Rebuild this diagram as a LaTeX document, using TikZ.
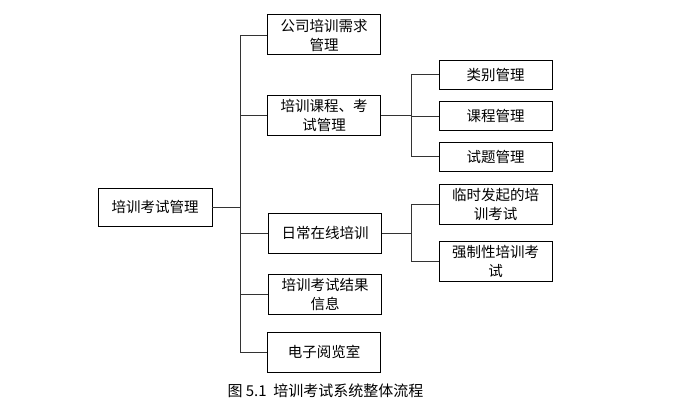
\documentclass[tikz,border=0pt]{standalone}
\usepackage{fontspec}
\setmainfont{Noto Sans CJK SC}
\begin{document}
\begin{tikzpicture}[x=1pt,y=-1pt,
  box/.style={draw, line width=0.8pt, minimum width=113pt, minimum height=40pt, inner sep=0pt, align=center, font=\fontsize{14.5}{19}\selectfont},
  sbox/.style={box, minimum height=29pt},
  conn/.style={draw, line width=0.7pt, draw=black!80}]
\useasboundingbox (0,0) rectangle (673,404);
\node[box, minimum width=114pt, minimum height=38pt] (root) at (155,207) {培训考试管理};
\node[box, line width=1pt] (l1) at (324,35) {公司培训需求\\管理};
\node[box] (l2) at (324,115) {培训课程、考\\试管理};
\node[box, line width=1pt] (l3) at (325,233) {日常在线培训};
\node[box] (l4) at (325,294) {培训考试结果\\信息};
\node[box] (l5) at (324,352) {电子阅览室};
\node[sbox] (a1) at (495.5,74.5) {类别管理};
\node[sbox, line width=1pt] (a2) at (495.5,116) {课程管理};
\node[sbox] (a3) at (495.5,156.5) {试题管理};
\node[box] (b1) at (495.5,204) {临时发起的培\\训考试};
\node[box] (b2) at (495.5,261) {强制性培训考\\试};
\coordinate (trunk) at (240,0);
\coordinate (sub) at (411,0);
\draw[conn] (root.east) -- (root.east -| trunk);
\draw[conn] (l1.west) -- (l1.west -| trunk) -- (l5.west -| trunk) -- (l5.west);
\draw[conn] (l2.west) -- (l2.west -| trunk);
\draw[conn] (l3.west) -- (l3.west -| trunk);
\draw[conn] (l4.west) -- (l4.west -| trunk);
\draw[conn] (l2.east) -- (l2.east -| sub);
\draw[conn] (a1.west) -- (a1.west -| sub) -- (a3.west -| sub) -- (a3.west);
\draw[conn] (a2.west) -- (a2.west -| sub);
\draw[conn] (l3.east) -- (l3.east -| sub);
\draw[conn] (b1.west) -- (b1.west -| sub) -- (b2.west -| sub) -- (b2.west);
\node[font=\fontsize{15}{17}\selectfont, inner sep=0pt] (cap) at (325.5,391) {图 5.1\ \ 培训考试系统整体流程};
\end{tikzpicture}
\end{document}
